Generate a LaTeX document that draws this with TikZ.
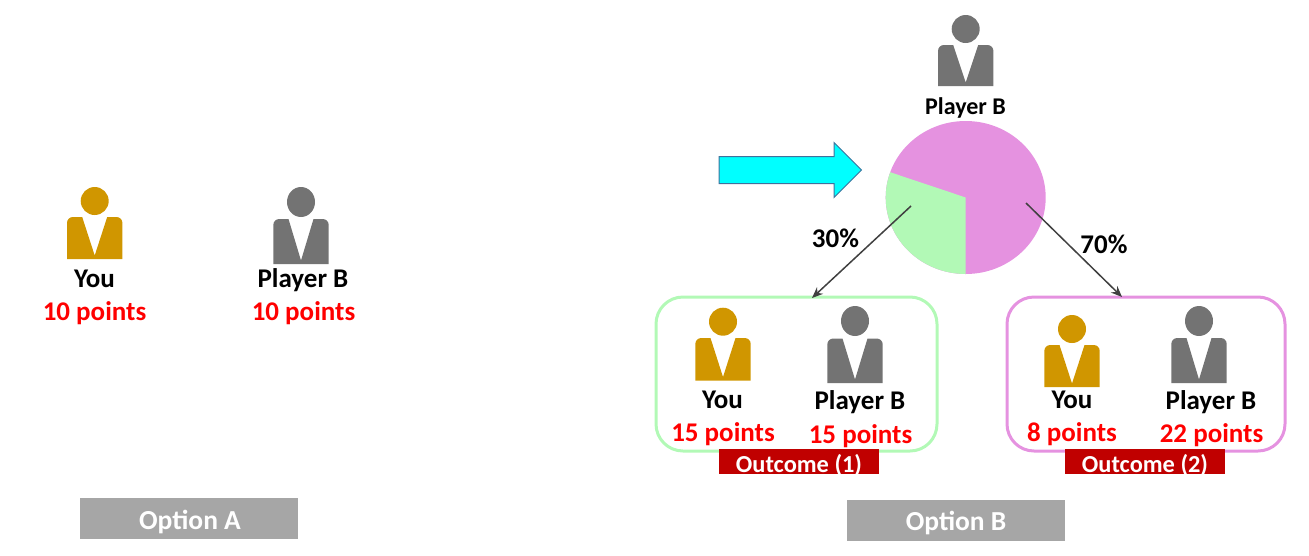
\documentclass[tikz,border=0pt]{standalone}
\usepackage{fontspec}
\setmainfont{Carlito}
\usetikzlibrary{arrows.meta}
\definecolor{gold}{HTML}{D09600}
\definecolor{slate}{HTML}{737373}
\definecolor{pinkc}{HTML}{E592E0}
\definecolor{greenc}{HTML}{B2F9B6}
\definecolor{darkred}{HTML}{C00000}
\definecolor{optgray}{HTML}{A6A6A6}
\definecolor{arrowline}{HTML}{404040}
\definecolor{cyanfill}{HTML}{00FFFF}
\definecolor{cyanedge}{HTML}{41719C}
\tikzset{
  namelabel/.style={font=\fontsize{27}{27}\selectfont\bfseries,text=black,inner sep=0pt,anchor=base},
  toplabel/.style={font=\fontsize{24}{24}\selectfont\bfseries,text=black,inner sep=0pt,anchor=base},
  pointslabel/.style={font=\fontsize{27}{27}\selectfont\bfseries,text=red,inner sep=0pt,anchor=base},
  pctlabel/.style={font=\fontsize{27}{27}\selectfont\bfseries,text=black,inner sep=0pt,anchor=base},
  tagbox/.style={fill=darkred,minimum width=160pt,minimum height=25pt,inner sep=0pt,anchor=center},
  taglabel/.style={text=white,font=\fontsize{24.4}{25}\selectfont\bfseries,inner sep=0pt,anchor=base},
  optionbox/.style={fill=optgray,minimum width=218pt,minimum height=41pt,inner sep=0pt,anchor=center},
  optionlabel/.style={text=white,font=\fontsize{27.5}{28}\selectfont\bfseries,inner sep=0pt,anchor=base},
  outcomebox/.style={draw=#1,line width=3pt,rounded corners=27pt,fill=none},
  flow/.style={draw=arrowline,line width=1.5pt,-{Stealth[length=11pt,width=9pt]}}
}
% #1 colour, #2 cx, #3 head cy, #4 head ry, #5 body top, #6 bottom
\newcommand{\personicon}[6]{%
  \fill[#1] (#2,#3) ellipse [x radius=14pt,y radius=#4pt];
  \fill[#1] ({#2-27.7},#6) -- ({#2-27.7},{#5+6})
     .. controls ({#2-27.7},{#5+2.5}) and ({#2-25},#5) .. ({#2-21.7},#5)
     -- ({#2-12.5},#5) -- (#2,{#6-3.5}) -- ({#2+12.5},#5) -- ({#2+21.7},#5)
     .. controls ({#2+25},#5) and ({#2+27.7},{#5+2.5}) .. ({#2+27.7},{#5+6})
     -- ({#2+27.7},#6) -- cycle;
}
\begin{document}
\begin{tikzpicture}[x=1pt,y=-1pt]
\useasboundingbox (0,0) rectangle (1309,555);
% left group
\personicon{gold}{94.7}{201}{14}{217}{259}
\personicon{slate}{301}{202}{15}{219}{264}
\node[namelabel] (youA) at (94.5,287) {You};
\node[namelabel] (playerA) at (303,287) {Player B};
\node[pointslabel] (ptsYouA) at (94.5,320.5) {10 points};
\node[pointslabel] (ptsBA) at (303.5,320.5) {10 points};
\node[optionbox] (optA) at (189,518.5) {};
\node[optionlabel] (optAText) at (190,529) {Option A};
% right top
\personicon{slate}{965.7}{29}{14}{45}{86}
\node[toplabel] (playerTop) at (965.5,114) {Player B};
\coordinate (pieC) at (965.7,197.5);
\fill[pinkc] (pieC) ellipse [x radius=80pt,y radius=76.5pt];
\fill[greenc] (pieC) -- plot[domain=90:199.3,samples=60,smooth] ({965.7+80*cos(\x)},{197.5+76.5*sin(\x)}) -- cycle;
\draw[draw=cyanedge,line width=1pt,fill=cyanfill] (719,156.5) -- (834,156.5) -- (834,142.5) -- (861.5,170) -- (834,197.5) -- (834,183.5) -- (719,183.5) -- cycle;
% outcome boxes
\node[outcomebox=greenc,minimum width=281pt,minimum height=154pt,inner sep=0pt,rectangle] (boxOne) at (796.5,374) {};
\node[outcomebox=pinkc,minimum width=278pt,minimum height=154pt,inner sep=0pt,rectangle] (boxTwo) at (1146,374) {};
\node[tagbox] (tagOne) at (799,461.5) {};
\node[tagbox] (tagTwo) at (1145,461.5) {};
\node[taglabel] (tagOneText) at (799,472) {Outcome (1)};
\node[taglabel] (tagTwoText) at (1145,472) {Outcome (2)};
% outcome 1
\personicon{gold}{723}{321.7}{14}{338}{380.5}
\personicon{slate}{855}{321}{15}{338.5}{383}
\node[namelabel] (youOne) at (722.5,408.5) {You};
\node[namelabel] (playerOne) at (860,409.5) {Player B};
\node[pointslabel] (ptsYouOne) at (723,441.5) {15 points};
\node[pointslabel] (ptsBOne) at (860.5,443) {15 points};
% outcome 2
\personicon{gold}{1072}{329}{14}{345}{387}
\personicon{slate}{1199}{321}{15}{338}{383}
\node[namelabel] (youTwo) at (1072,408.5) {You};
\node[namelabel] (playerTwo) at (1211,409.5) {Player B};
\node[pointslabel] (ptsYouTwo) at (1072,441.5) {8 points};
\node[pointslabel] (ptsBTwo) at (1211.5,442.5) {22 points};
\node[optionbox] (optB) at (956,520.5) {};
\node[optionlabel] (optBText) at (956,530.5) {Option B};
% connectors
\coordinate (startL) at (911,206);
\coordinate (startR) at (1026,203);
\coordinate (endL) at (812,298);
\coordinate (endR) at (1122,297);
\draw[flow] (startL) -- (endL);
\draw[flow] (startR) -- (endR);
\node[pctlabel] (pctL) at (835.5,247.5) {30\%};
\node[pctlabel] (pctR) at (1104,253) {70\%};
\end{tikzpicture}
\end{document}
